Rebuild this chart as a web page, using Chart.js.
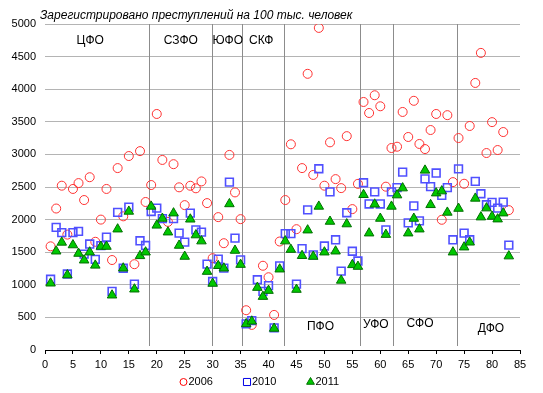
<!DOCTYPE html>
<html>
<head>
<meta charset="utf-8">
<script src="https://cdn.jsdelivr.net/npm/chart.js@4.4.1/dist/chart.umd.min.js"></script>
<style>
	html, body { margin: 0; padding: 0; background: #fff; }
	#wrap { width: 543px; height: 393px; }
</style>
</head>
<body>
<div id="wrap"><canvas id="Grafica1"></canvas></div>
<script>
// номер региона (1..83)
const regionNo = [
	1, 2, 3, 4, 5, 6, 7, 8, 9, 10, 11, 12, 13, 14, 15, 16, 17, 18, 19, 20,
	21, 22, 23, 24, 25, 26, 27, 28, 29, 30, 31, 32, 33, 34, 35, 36, 37, 38, 39, 40,
	41, 42, 43, 44, 45, 46, 47, 48, 49, 50, 51, 52, 53, 54, 55, 56, 57, 58, 59, 60,
	61, 62, 63, 64, 65, 66, 67, 68, 69, 70, 71, 72, 73, 74, 75, 76, 77, 78, 79, 80,
	81, 82, 83
];

const crime2006 = [
	1590, 2170, 2520, 1770, 2470, 2560, 2300, 2650, 1660, 2000,
	2470, 1380, 2790, 2050, 2975, 1316, 3050, 2270, 2530, 3620,
	2915, 1965, 2850, 2495, 2222, 2519, 2480, 2586, 2253, 1408,
	2038, 1638, 2992, 2417, 2007, 610, 385, null, 1292, 1116,
	538, 1664, 2300, 3155, 1853, 2790, 4236, 2685, 4940, 2520,
	3185, 2621, 2483, 3280, 2161, 2548, 3804, 3635, 3907, 3738,
	2505, 3098, 3118, 3651, 3267, 3822, 3160, 3082, 3374, 3620,
	1997, 3602, 2575, 3251, 2550, 3436, 4096, 4557, 3021, 3495,
	3067, 3343, 2145
];

const crime2010 = [
	1085, 1880, 1800, 1165, 1800, 1820, 1470, 1625, 1390, 1600,
	1730, 900, 2110, 1254, 2191, 1009, 1675, 1603, 2125, 2176,
	2015, null, 2015, 1792, 1655, 2100, 1843, 1808, 1318, 1050,
	1393, 1255, 2575, 1715, 1382, 400, 450, 1078, 900, 988,
	340, 1290, 1785, 1785, 1010, 1555, 2150, 1459, 2780, 1595,
	2425, 1690, 1210, 2105, 1515, 1365, 2565, 2240, 2425, 2240,
	1843, 2425, 2490, 2729, 1950, 2210, 1981, 2624, 2506, 2714,
	2371, 2490, 1690, 2778, 1792, 1690, 2586, 2396, 2227, 2265,
	2176, 2268, 1608
];

const crime2011 = [
	1024, 1515, 1650, 1150, 1610, 1480, 1377, 1500, 1298, 1587,
	1587, 840, 1853, 1254, 2125, 932, 1444, 1500, 2202, 1912,
	2017, 1807, 2099, 1603, 1434, 2005, 1763, 1670, 1203, 1020,
	1292, 1254, 2240, 1526, 1310, 400, 440, 957, 819, 911,
	330, 1239, 1670, 1540, 927, 1446, 1838, 1434, 2202, 1500,
	1971, 1515, 1067, 1932, 1306, 1280, 2381, 1792, 2235, 2017,
	1770, 2202, 2376, 2483, 1792, 2017, 1853, 2755, 2227, 2406,
	2437, 2110, 1500, 2170, 1577, 1652, 2325, 2038, 2176, 2048,
	2007, 2099, 1440
];

// границы округов и подписи
const districtBorders = [18.6, 29.9, 35.3, 42.7, 56.4, 62.3, 73.8];
const districtNames = ["ЦФО", "СЗФО", "ЮФО", "СКФ", "ПФО", "УФО", "СФО", "ДФО"];
const districtLabelX = [8.1, 24.3, 32.7, 38.7, 49.3, 59.2, 67.1, 79.8];
const districtLabelY = [4750, 4750, 4750, 4750, 360, 385, 400, 330];

const chartTitle = "Зарегистрировано преступлений на 100 тыс. человек";

function toPoints(values) {
	return regionNo.map((x, i) => ({ x: x, y: values[i] }));
}

const FONT = '"Liberation Sans", Arial, sans-serif';
Chart.defaults.font.family = FONT;
Chart.defaults.font.size = 11;
Chart.defaults.color = "#000";

const extras = {
	id: "extras",
	beforeDatasetsDraw(chart) {
		const ctx = chart.ctx;
		const xs = chart.scales.x;
		const ys = chart.scales.y;
		ctx.save();
		ctx.strokeStyle = "#8c8c8c";
		ctx.lineWidth = 1;
		districtBorders.forEach(v => {
			const px = Math.round(xs.getPixelForValue(v)) + 0.5;
			ctx.beginPath();
			ctx.moveTo(px, ys.getPixelForValue(5000));
			ctx.lineTo(px, ys.getPixelForValue(0) - 4);
			ctx.stroke();
		});
		ctx.restore();
	},
	afterDraw(chart) {
		const ctx = chart.ctx;
		const xs = chart.scales.x;
		const ys = chart.scales.y;
		ctx.save();
		// заголовок
		ctx.fillStyle = "#000";
		ctx.font = "italic 12px " + FONT;
		ctx.textAlign = "left";
		ctx.textBaseline = "middle";
		ctx.fillText(chartTitle, 40, 16);
		// округа
		ctx.font = "12px " + FONT;
		ctx.textAlign = "center";
		districtNames.forEach((name, i) => {
			ctx.fillText(name, xs.getPixelForValue(districtLabelX[i]), ys.getPixelForValue(districtLabelY[i]));
		});
		// легенда
		const y = 382;
		let x = 183.5;
		ctx.font = "11px " + FONT;
		ctx.textAlign = "left";
		chart.data.datasets.forEach(ds => {
			ctx.fillStyle = ds.legendFill;
			ctx.strokeStyle = ds.legendStroke;
			ctx.lineWidth = 1;
			Chart.helpers.drawPoint(ctx, { pointStyle: ds.pointStyle, radius: ds.legendRadius, borderWidth: 1, rotation: 0 }, x, y);
			ctx.fillStyle = "#000";
			ctx.fillText(ds.label, x + 5, y);
			x += 63.5;
		});
		ctx.restore();
	}
};

const ctx = document.getElementById("Grafica1").getContext("2d");
let Grafica1 = new Chart(ctx, {
	type: "scatter",
	data: {
		datasets: [
			{
				label: "2006",
				data: toPoints(crime2006),
				pointStyle: "circle",
				pointRadius: 4.5,
				pointBorderWidth: 1,
				borderColor: "rgb(255, 50, 50)",
				backgroundColor: "rgba(0, 0, 0, 0)",
				legendFill: "rgba(0, 0, 0, 0)",
				legendStroke: "rgb(255, 0, 0)",
				legendRadius: 3.5,
				order: 3,
			},
			{
				label: "2010",
				data: toPoints(crime2010),
				pointStyle: "rect",
				pointRadius: 5.5,
				pointBorderWidth: 1.6,
				borderColor: "rgb(80, 80, 255)",
				backgroundColor: "rgba(0, 0, 0, 0)",
				legendFill: "rgba(0, 0, 0, 0)",
				legendStroke: "rgb(0, 0, 230)",
				legendRadius: 5,
				order: 2,
			},
			{
				label: "2011",
				data: toPoints(crime2011),
				pointStyle: "triangle",
				pointRadius: 5.5,
				pointBorderWidth: 1,
				borderColor: "rgb(0, 110, 0)",
				backgroundColor: "rgb(0, 200, 0)",
				legendFill: "rgb(0, 200, 0)",
				legendStroke: "rgb(0, 110, 0)",
				legendRadius: 4.5,
				order: 1,
			},
		],
	},
	options: {
		responsive: true,
		maintainAspectRatio: false,
		animation: false,
		layout: {
			padding: { top: 24, right: 23, bottom: 23, left: 0 }
		},
		plugins: {
			legend: { display: false },
			title: { display: false },
			tooltip: { enabled: false },
		},
		scales: {
			x: {
				type: "linear",
				min: 0,
				max: 85,
				afterFit: (scale) => { scale.height = 20; },
				border: { display: true, color: "#000", width: 1 },
				grid: {
					drawOnChartArea: false,
					drawTicks: true,
					tickLength: 4,
					color: "#000",
				},
				ticks: {
					stepSize: 5,
					padding: 4,
					color: "#000",
					maxRotation: 0,
				},
			},
			y: {
				min: 0,
				max: 5000,
				afterFit: (scale) => { scale.width = 45; },
				border: { display: false },
				grid: {
					drawTicks: false,
					color: "#b4b4b4",
				},
				ticks: {
					stepSize: 500,
					padding: 9,
					color: "#000",
					callback: (value) => String(value),
				},
			},
		},
	},
	plugins: [extras],
});
</script>
</body>
</html>
